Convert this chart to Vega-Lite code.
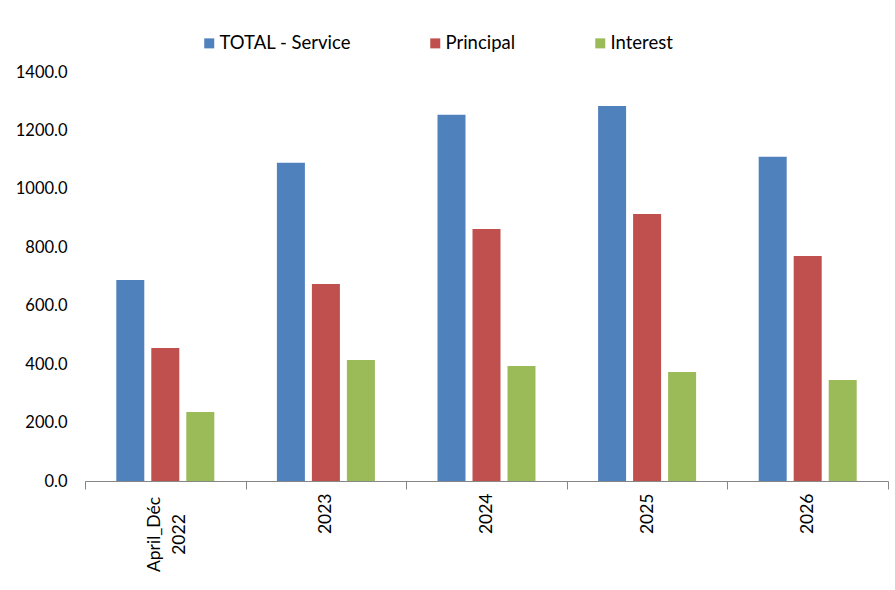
{
  "$schema": "https://vega.github.io/schema/vega-lite/v6.json",
  "autosize": "none",
  "width": 803,
  "height": 409,
  "padding": {"left": 85, "top": 72, "right": 7, "bottom": 109},
  "background": "white",
  "config": {"view": {"stroke": null}, "font": "Lato"},
  "data": {
    "values": [
      {"period": "April_Déc 2022", "series": "TOTAL - Service", "value": 688},
      {"period": "April_Déc 2022", "series": "Principal", "value": 455},
      {"period": "April_Déc 2022", "series": "Interest", "value": 236},
      {"period": "2023", "series": "TOTAL - Service", "value": 1089},
      {"period": "2023", "series": "Principal", "value": 674},
      {"period": "2023", "series": "Interest", "value": 414},
      {"period": "2024", "series": "TOTAL - Service", "value": 1254},
      {"period": "2024", "series": "Principal", "value": 863},
      {"period": "2024", "series": "Interest", "value": 394},
      {"period": "2025", "series": "TOTAL - Service", "value": 1284},
      {"period": "2025", "series": "Principal", "value": 914},
      {"period": "2025", "series": "Interest", "value": 373},
      {"period": "2026", "series": "TOTAL - Service", "value": 1110},
      {"period": "2026", "series": "Principal", "value": 770},
      {"period": "2026", "series": "Interest", "value": 346}
    ]
  },
  "mark": {"type": "bar"},
  "encoding": {
    "x": {
      "field": "period",
      "type": "nominal",
      "sort": null,
      "scale": {"paddingInner": 0, "paddingOuter": 0},
      "axis": {
        "title": null,
        "labelAngle": -90,
        "labelAlign": {"condition": {"test": "datum.value == 'April_Déc 2022'", "value": "center"}, "value": "right"},
        "labelBaseline": "middle",
        "labelFont": "Lato",
        "labelFontSize": 17.5,
        "labelColor": "#000000",
        "labelPadding": {"condition": {"test": "datum.value == 'April_Déc 2022'", "value": 45}, "value": 4},
        "labelExpr": "datum.label == 'April_Déc 2022' ? ['April_Déc', '2022'] : datum.label",
        "labelLineHeight": 25,
        "labelOffset": {"condition": {"test": "datum.value == 'April_Déc 2022'", "value": -11}, "value": 0},
        "tickBand": "extent",
        "tickSize": 8,
        "tickColor": "#868686",
        "domainColor": "#868686",
        "grid": false
      }
    },
    "xOffset": {
      "field": "series",
      "type": "nominal",
      "sort": ["TOTAL - Service", "Principal", "Interest"],
      "scale": {"paddingInner": 0.2, "paddingOuter": 0.894}
    },
    "y": {
      "field": "value",
      "type": "quantitative",
      "scale": {"domain": [0, 1400]},
      "axis": {
        "title": null,
        "values": [0, 200, 400, 600, 800, 1000, 1200, 1400],
        "format": ".1f",
        "domain": false,
        "ticks": false,
        "grid": false,
        "labelFont": "Lato",
        "labelFontSize": 16.5,
        "labelColor": "#000000",
        "labelPadding": 18
      }
    },
    "color": {
      "field": "series",
      "type": "nominal",
      "sort": ["TOTAL - Service", "Principal", "Interest"],
      "scale": {
        "domain": ["TOTAL - Service", "Principal", "Interest"],
        "range": ["#4F81BD", "#C0504D", "#9BBB59"]
      },
      "legend": {
        "title": null,
        "orient": "none",
        "direction": "horizontal",
        "legendX": 115,
        "legendY": -38,
        "symbolType": "square",
        "symbolSize": 100,
        "symbolStrokeWidth": 0,
        "labelFont": "Lato",
        "labelFontSize": 18.5,
        "labelColor": "#000000",
        "labelOffset": 1,
        "columnPadding": 75
      }
    }
  }
}
